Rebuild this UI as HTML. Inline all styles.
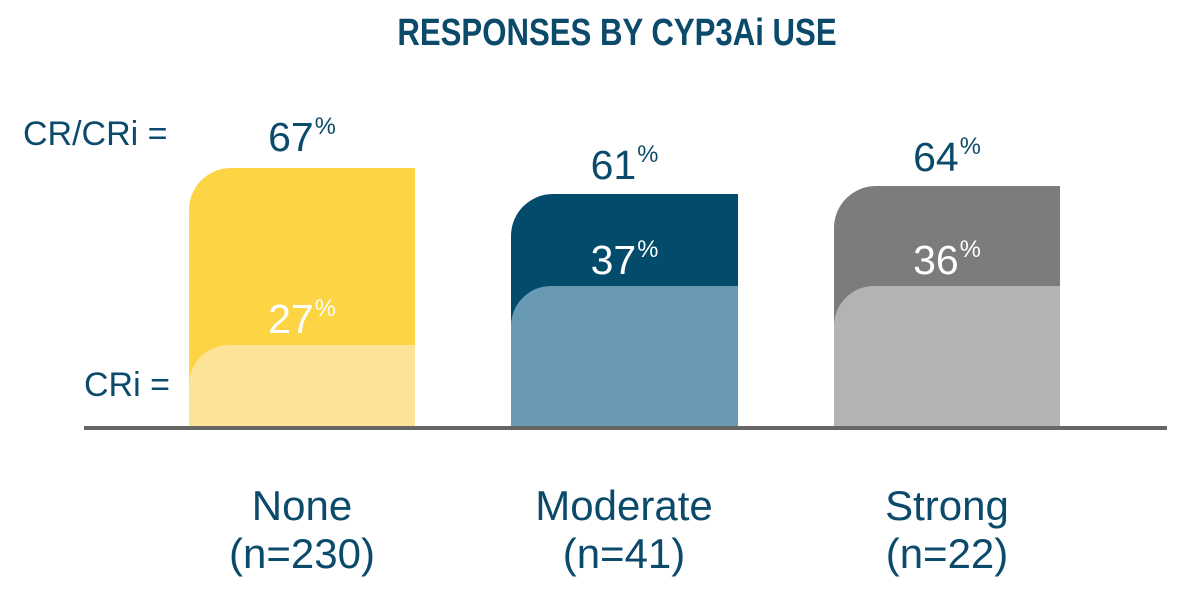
<!DOCTYPE html>
<html><head><style>
body{margin:0;width:1200px;height:600px;background:#fff;overflow:hidden;font-family:"Liberation Sans",sans-serif;}
.t{position:absolute;color:#0b4a6b;white-space:nowrap;}
.b{position:absolute;}
sup{font-size:0.58em;vertical-align:0;position:relative;top:-0.7em;margin-left:1px;}
</style></head><body>
<div class="t" style="left:17px;width:1200px;text-align:center;top:12px;font-weight:bold;font-size:38px;transform:scaleX(0.82);transform-origin:600px 0;">RESPONSES BY CYP3Ai USE</div>
<div class="t" style="left:23px;top:115px;font-size:34px;">CR/CRi =</div>
<div class="t" style="left:84px;top:366px;font-size:34px;">CRi =</div>

<div class="b" style="left:189px;top:168px;width:226px;height:260px;background:#fcd444;border-top-left-radius:42px;"></div>
<div class="b" style="left:189px;top:345px;width:226px;height:83px;background:#fde395;border-top-left-radius:40px;"></div>
<div class="b" style="left:511px;top:194px;width:227px;height:234px;background:#034b6b;border-top-left-radius:42px;"></div>
<div class="b" style="left:511px;top:286px;width:227px;height:142px;background:#6a9ab3;border-top-left-radius:40px;"></div>
<div class="b" style="left:834px;top:186px;width:226px;height:242px;background:#7c7c7c;border-top-left-radius:42px;"></div>
<div class="b" style="left:834px;top:286px;width:226px;height:142px;background:#b3b3b3;border-top-left-radius:40px;"></div>
<div class="b" style="left:84px;top:426px;width:1083px;height:4px;background:#666;"></div>

<div class="t" style="left:189px;width:226px;text-align:center;top:114px;font-size:41px;">67<sup>%</sup></div>
<div class="t" style="left:189px;width:226px;text-align:center;top:296px;font-size:41px;color:#fff;">27<sup>%</sup></div>
<div class="t" style="left:511px;width:227px;text-align:center;top:142px;font-size:41px;">61<sup>%</sup></div>
<div class="t" style="left:511px;width:227px;text-align:center;top:237px;font-size:41px;color:#fff;">37<sup>%</sup></div>
<div class="t" style="left:834px;width:226px;text-align:center;top:134px;font-size:41px;">64<sup>%</sup></div>
<div class="t" style="left:834px;width:226px;text-align:center;top:237px;font-size:41px;color:#fff;">36<sup>%</sup></div>

<div class="t" style="left:152px;width:300px;text-align:center;top:482px;font-size:42px;line-height:48px;">None<br>(n=230)</div>
<div class="t" style="left:474px;width:300px;text-align:center;top:482px;font-size:42px;line-height:48px;">Moderate<br>(n=41)</div>
<div class="t" style="left:797px;width:300px;text-align:center;top:482px;font-size:42px;line-height:48px;">Strong<br>(n=22)</div>
</body></html>
